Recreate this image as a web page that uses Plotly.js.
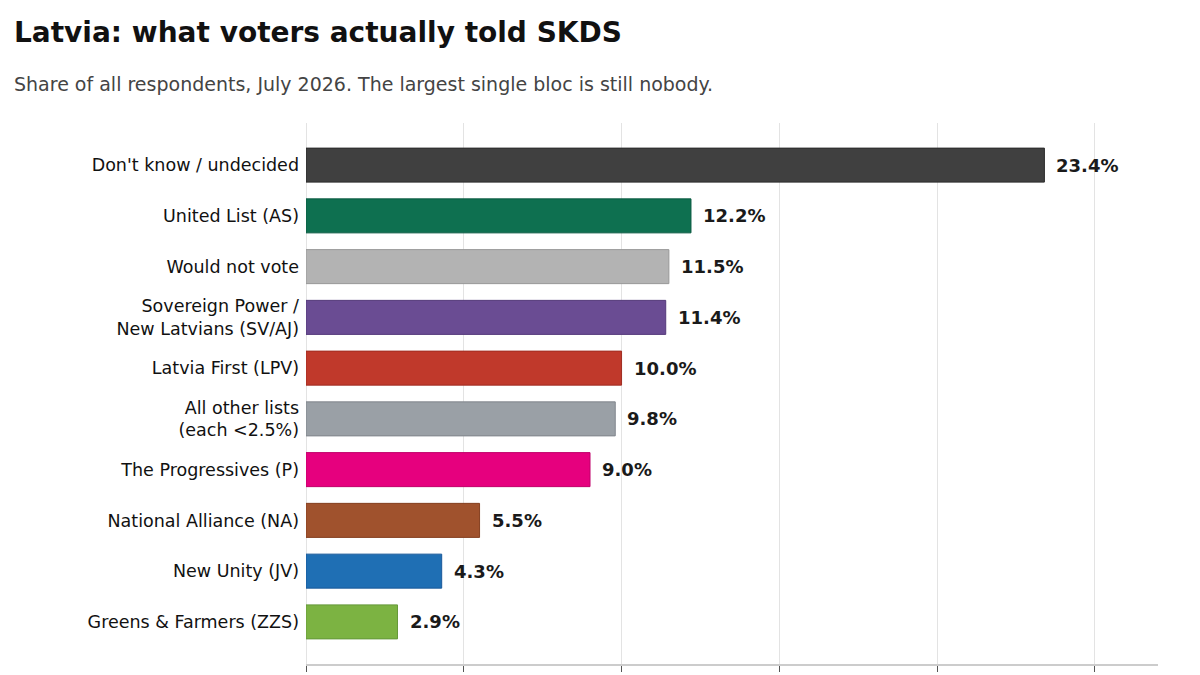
<!DOCTYPE html>
<html>
<head>
<meta charset="utf-8">
<script src="https://cdn.plot.ly/plotly-3.0.1.min.js"></script>
<style>body{margin:0;background:#fff}#chart{width:1200px;height:675px}</style>
</head>
<body>
<div id="chart"></div>
<script>
const categories = [
    "Don't know / undecided",
    'United List (AS)',
    'Would not vote',
    'Sovereign Power /<br>New Latvians (SV/AJ)',
    'Latvia First (LPV)',
    'All other lists<br>(each <2.5%)',
    'The Progressives (P)',
    'National Alliance (NA)',
    'New Unity (JV)',
    'Greens & Farmers (ZZS)'
]
const shares = [23.4, 12.2, 11.5, 11.4, 10.0, 9.8, 9.0, 5.5, 4.3, 2.9]
const barColors = ['#404040', '#0e7050', '#b3b3b3', '#6a4c93', '#c0392b',
    '#9aa0a6', '#e6007e', '#a0522d', '#1f6fb4', '#7cb342']
const edgeColors = ['#2a2a2a', '#0a5a40', '#999999', '#553a7a', '#a02d22',
    '#80868c', '#c0006a', '#853f20', '#18589a', '#66993a']

const data = [{
    type: 'bar',
    orientation: 'h',
    y: categories,
    x: shares,
    width: 0.67,
    marker: { color: barColors, line: { color: edgeColors, width: 1 } },
    hoverinfo: 'none'
}]

// value labels sit a little to the right of each bar end
const valueLabels = shares.map((v, i) => ({
    text: '<b>' + v.toFixed(1) + '%</b>',
    x: v, y: categories[i],
    xref: 'x', yref: 'y',
    xanchor: 'left', yanchor: 'middle',
    xshift: 10,
    showarrow: false,
    font: { family: 'DejaVu Sans', size: 18, color: '#1a1a1a' }
}))

const layout = {
    width: 1200,
    height: 675,
    paper_bgcolor: '#ffffff',
    plot_bgcolor: '#ffffff',
    font: { family: 'DejaVu Sans', color: '#111111' },
    showlegend: false,
    margin: { l: 306, r: 42, t: 123, b: 11, pad: 0 },
    xaxis: {
        range: [0, 27],
        dtick: 5,
        showgrid: true,
        gridcolor: '#e3e3e3',
        gridwidth: 1,
        zeroline: true,
        zerolinecolor: '#e3e3e3',
        zerolinewidth: 1,
        showline: true,
        linecolor: '#cccccc',
        linewidth: 1.5,
        ticks: 'outside',
        ticklen: 6,
        tickcolor: '#555555',
        showticklabels: false
    },
    yaxis: {
        range: [9.83, -0.83],
        showgrid: false,
        zeroline: false,
        showline: false,
        ticks: '',
        ticklabelstandoff: 6,
        tickfont: { family: 'DejaVu Sans', size: 17.5, color: '#111111' }
    },
    annotations: [
        {
            text: '<b>Latvia: what voters actually told SKDS</b>',
            xref: 'paper', yref: 'paper',
            x: (12 - 306) / 852, y: (664 - 32) / 541,
            xanchor: 'left', yanchor: 'middle', showarrow: false,
            font: { family: 'DejaVu Sans', size: 28, color: '#111111' }
        },
        {
            text: 'Share of all respondents, July 2026. The largest single bloc is still nobody.',
            xref: 'paper', yref: 'paper',
            x: (12 - 306) / 852, y: (664 - 84) / 541,
            xanchor: 'left', yanchor: 'middle', showarrow: false,
            font: { family: 'DejaVu Sans', size: 19, color: '#444444' }
        }
    ].concat(valueLabels)
}

Plotly.newPlot('chart', data, layout, { displayModeBar: false, staticPlot: true })
</script>
</body>
</html>
